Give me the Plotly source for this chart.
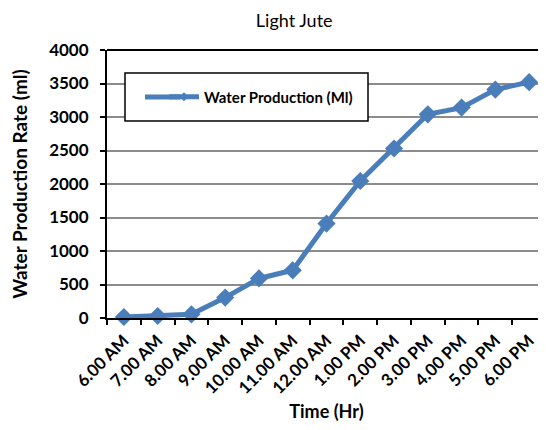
import plotly.graph_objects as go

categories = ["6.00 AM", "7.00 AM", "8.00 AM", "9.00 AM", "10.00 AM", "11.00 AM",
              "12.00 AM", "1.00 PM", "2.00 PM", "3.00 PM", "4.00 PM", "5.00 PM", "6.00 PM"]
water_production = [15, 30, 55, 305, 590, 712, 1410, 2045, 2530, 3040, 3140, 3410, 3520]
y_ticks = [0, 500, 1000, 1500, 2000, 2500, 3000, 3500, 4000]

BLUE = "#4a7ebb"
FONT = "Lato"

# plot area in figure pixels (page body adds an 8px offset)
L, T, W_FIG, H_FIG, B = 99, 42, 538, 414, 104
PW = W_FIG - L
PH = H_FIG - T - B

def px_x(x):
    return (x - 8 - L) / PW

def px_y(y):
    return (H_FIG - B - (y - 8)) / PH

fig = go.Figure()
fig.add_trace(go.Scatter(
    x=categories, y=water_production, mode="lines+markers",
    line=dict(color=BLUE, width=5),
    marker=dict(symbol="diamond", size=14, color=BLUE),
    showlegend=False, cliponaxis=False,
))
# legend sample (small marker like the original)
fig.add_trace(go.Scatter(
    x=[None], y=[None], mode="lines+markers", name="Water Production (Ml)",
    line=dict(color=BLUE, width=5),
    marker=dict(symbol="diamond", size=7, color=BLUE),
))

leg_y = px_y(97)
fig.update_layout(
    width=W_FIG, height=H_FIG, autosize=False,
    margin=dict(l=L, r=0, t=T, b=B, autoexpand=False),
    paper_bgcolor="white", plot_bgcolor="white",
    font=dict(family=FONT, color="black"),
    title=dict(text="Light Jute", x=0.532, xanchor="center", y=0.969, yanchor="middle",
               font=dict(family=FONT, size=18, color="black")),
    showlegend=True,
    legend=dict(x=px_x(164), xanchor="left", y=leg_y, yanchor="middle",
                bgcolor="rgba(0,0,0,0)", borderwidth=0,
                font=dict(family=FONT, size=15, color="black", weight="bold")),
    shapes=[dict(type="rect", xref="paper", yref="paper",
                 x0=px_x(125), x1=px_x(368), y0=px_y(121), y1=px_y(73),
                 line=dict(color="black", width=1.5), fillcolor="white", layer="above"),
            dict(type="line", xref="paper", yref="paper",
                 x0=px_x(145), x1=px_x(180), y0=leg_y, y1=leg_y,
                 line=dict(color=BLUE, width=5), layer="above"),
            dict(type="line", xref="paper", yref="paper", x0=0, x1=1, y0=1, y1=1,
                 line=dict(color="black", width=2))],
)
fig.update_xaxes(
    type="category", range=[-0.5, len(categories) - 0.5], tickangle=-45,
    showgrid=False, automargin=False,
    showline=True, linecolor="black", linewidth=2, mirror=False,
    ticks="outside", tickson="boundaries", ticklen=5, tickcolor="black", tickwidth=1.5,
    ticklabelstandoff=4,
    tickfont=dict(family=FONT, size=17, color="black", weight="bold"),
    title=dict(text="Time (Hr)", font=dict(family=FONT, size=18, color="black", weight="bold"),
               standoff=12),
)
fig.update_yaxes(
    range=[0, 4000], tickvals=y_ticks, showgrid=True, gridcolor="#8c8c8c", gridwidth=1.5,
    showline=True, linecolor="black", linewidth=2, zeroline=False, automargin=False,
    ticks="outside", ticklen=5, tickcolor="black", tickwidth=1.5,
    ticklabelstandoff=8,
    tickfont=dict(family=FONT, size=17, color="black", weight="bold"),
    title=dict(text="Water Production Rate (ml)",
               font=dict(family=FONT, size=19, color="black", weight="bold"), standoff=20),
)

fig.write_html("out.html")
